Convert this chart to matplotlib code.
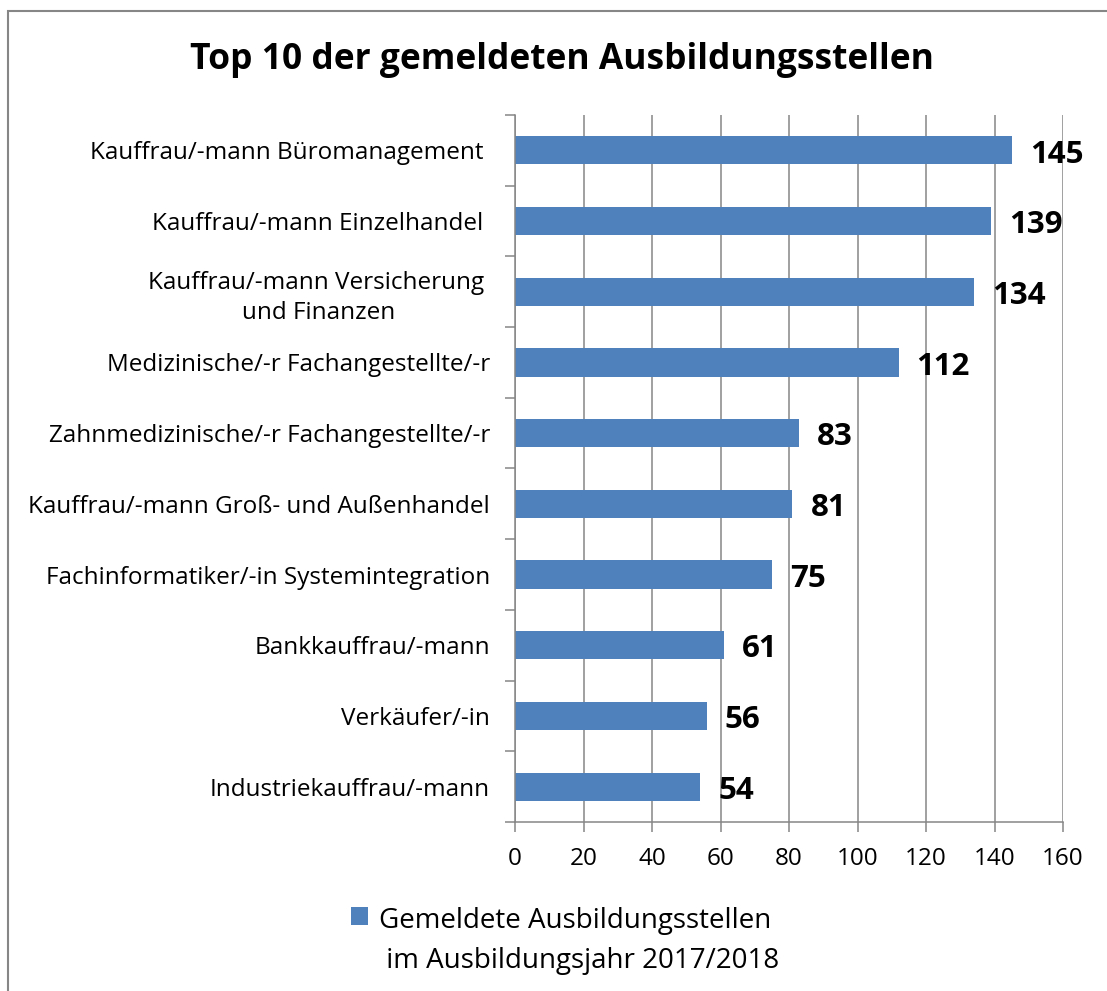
import matplotlib
matplotlib.use("Agg")
import matplotlib.pyplot as plt
from matplotlib.patches import Rectangle

plt.rcParams['font.family'] = ['Open Sans', 'DejaVu Sans']

berufe = ['Kauffrau/-mann Büromanagement ',
          'Kauffrau/-mann Einzelhandel ',
          'Kauffrau/-mann Versicherung \nund Finanzen',
          'Medizinische/-r Fachangestellte/-r',
          'Zahnmedizinische/-r Fachangestellte/-r',
          'Kauffrau/-mann Groß- und Außenhandel',
          'Fachinformatiker/-in Systemintegration',
          'Bankkauffrau/-mann',
          'Verkäufer/-in',
          'Industriekauffrau/-mann']
stellen = [145, 139, 134, 112, 83, 81, 75, 61, 56, 54]
xticks = [0, 20, 40, 60, 80, 100, 120, 140, 160]
serie = 'Gemeldete Ausbildungsstellen\n im Ausbildungsjahr 2017/2018'

grau = '#868686'
blau = '#4F81BD'

fig = plt.figure(figsize=(11.07, 9.91), dpi=100)
ax = fig.add_axes([515/1107, 1-822/991, 548/1107, 707/991])

pos = list(range(len(berufe)))
bars = ax.barh(pos, stellen, height=0.4, color=blau, label=serie, zorder=2)

ax.set_ylim(len(berufe)-0.5, -0.5)
ax.set_xlim(0, 160)
ax.set_xticks(xticks)
ax.tick_params(axis='x', length=7, color=grau, width=1.1, labelsize=17.5, pad=11)

ax.set_yticks(pos)
ax.set_yticklabels(berufe, fontsize=17.5, multialignment='center', linespacing=1.35)
ax.tick_params(axis='y', which='major', length=0, pad=18)
ax.set_yticks([p-0.5 for p in pos] + [len(berufe)-0.5], minor=True)
ax.tick_params(axis='y', which='minor', length=7, color=grau, width=1.1)

ax.grid(axis='x', color=grau, linewidth=1.1, zorder=0)
ax.set_axisbelow(True)
for s in ['top', 'right']:
    ax.spines[s].set_visible(False)
for s in ['left', 'bottom']:
    ax.spines[s].set_color(grau)
    ax.spines[s].set_linewidth(1.1)

for p, v in zip(pos, stellen):
    ax.annotate(str(v), (v, p), xytext=(13, -3), textcoords='offset points',
                va='center', ha='left', fontsize=22.5, fontweight='bold', zorder=3)

fig.text(562/1107, 1-60/991, 'Top 10 der gemeldeten Ausbildungsstellen',
         ha='center', va='center', fontsize=25.5, fontweight='bold')

leg = fig.legend(handles=[bars], labels=[serie], loc='upper left',
                 bbox_to_anchor=(340/1107, 1-896/991), frameon=False,
                 fontsize=20, handlelength=0.6, handleheight=0.6,
                 handletextpad=0.4, borderaxespad=0)
leg.get_texts()[0].set_linespacing(1.55)
for col in leg._legend_handle_box.get_children():
    for item in col.get_children():
        item.align = 'top'

fig.patches.append(Rectangle((8/1107, -0.1), 1.2, 1-11/991+0.1,
                             transform=fig.transFigure, fill=False,
                             edgecolor=grau, linewidth=1.5))

fig.savefig('out.png', dpi=100)
